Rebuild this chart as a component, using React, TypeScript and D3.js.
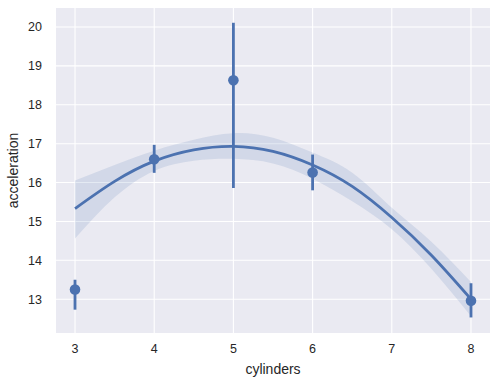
import React from 'react';
import * as d3 from 'd3';

// mean acceleration per cylinder count, with 95% CI
const cylinders = [3, 4, 5, 6, 8];
const meanAccel = [13.25, 16.6, 18.63, 16.26, 12.96];
const ciLow = [12.73, 16.25, 15.86, 15.8, 12.53];
const ciHigh = [13.5, 16.97, 20.11, 16.72, 13.41];

// order-2 regression line and its band, read at half steps
const fitX = [3, 3.5, 4, 4.5, 5, 5.5, 6, 6.5, 7, 7.5, 8];
const fitY = [15.33, 16.03, 16.55, 16.84, 16.93, 16.8, 16.45, 15.9, 15.1, 14.13, 13.0];
const bandLow = [14.56, 15.62, 16.3, 16.56, 16.61, 16.49, 16.1, 15.52, 14.8, 13.78, 12.56];
const bandHigh = [16.05, 16.45, 16.82, 17.1, 17.27, 17.15, 16.77, 16.25, 15.35, 14.48, 13.44];

const xTicks = [3, 4, 5, 6, 7, 8];
const yTicks = [13, 14, 15, 16, 17, 18, 19, 20];

const W = 499;
const H = 385;
const margin = { top: 8, right: 9, bottom: 52, left: 56 };
const blue = '#4C72B0';
const textColor = '#262626';
const font = '"Liberation Sans", Arial, sans-serif';

export default function App() {
  const innerW = W - margin.left - margin.right;
  const innerH = H - margin.top - margin.bottom;

  const x = d3.scaleLinear().domain([2.76, 8.24]).range([0, innerW]);
  const y = d3.scaleLinear().domain([12.13, 20.49]).range([innerH, 0]);

  const fitPts = fitX.map((v, i) => ({ x: v, y: fitY[i], lo: bandLow[i], hi: bandHigh[i] }));

  const line = d3
    .line<{ x: number; y: number }>()
    .x((d) => x(d.x))
    .y((d) => y(d.y))
    .curve(d3.curveNatural);

  const area = d3
    .area<{ x: number; lo: number; hi: number }>()
    .x((d) => x(d.x))
    .y0((d) => y(d.lo))
    .y1((d) => y(d.hi))
    .curve(d3.curveNatural);

  return (
    <svg width={W} height={H} style={{ position: 'absolute', left: 0, top: 0 }}>
      <rect width={W} height={H} fill="#ffffff" />
      <g transform={`translate(${margin.left},${margin.top})`}>
        <rect width={innerW} height={innerH} fill="#EAEAF2" />
        {xTicks.map((t) => (
          <line key={'gx' + t} x1={x(t)} x2={x(t)} y1={0} y2={innerH} stroke="#fff" strokeWidth={1.1} />
        ))}
        {yTicks.map((t) => (
          <line key={'gy' + t} x1={0} x2={innerW} y1={y(t)} y2={y(t)} stroke="#fff" strokeWidth={1.1} />
        ))}

        <path d={area(fitPts) || ''} fill={blue} fillOpacity={0.15} />
        <path d={line(fitPts) || ''} fill="none" stroke={blue} strokeWidth={2.8} />

        {cylinders.map((c, i) => (
          <g key={'pt' + c}>
            <line x1={x(c)} x2={x(c)} y1={y(ciLow[i])} y2={y(ciHigh[i])} stroke={blue} strokeWidth={2.8} />
            <circle cx={x(c)} cy={y(meanAccel[i])} r={5.3} fill={blue} />
          </g>
        ))}

        {xTicks.map((t) => (
          <text
            key={'tx' + t}
            x={x(t)}
            y={innerH + 20}
            textAnchor="middle"
            fontSize={12.5}
            fontFamily={font}
            fill={textColor}
          >
            {t}
          </text>
        ))}
        {yTicks.map((t) => (
          <text
            key={'ty' + t}
            x={-14}
            y={y(t)}
            dy="0.35em"
            textAnchor="end"
            fontSize={12.5}
            fontFamily={font}
            fill={textColor}
          >
            {t}
          </text>
        ))}

        <text
          x={innerW / 2}
          y={innerH + 41}
          textAnchor="middle"
          fontSize={14}
          fontFamily={font}
          fill={textColor}
        >
          cylinders
        </text>
        <text
          transform={`translate(${-38},${innerH / 2}) rotate(-90)`}
          textAnchor="middle"
          fontSize={14}
          fontFamily={font}
          fill={textColor}
        >
          acceleration
        </text>
      </g>
    </svg>
  );
}
